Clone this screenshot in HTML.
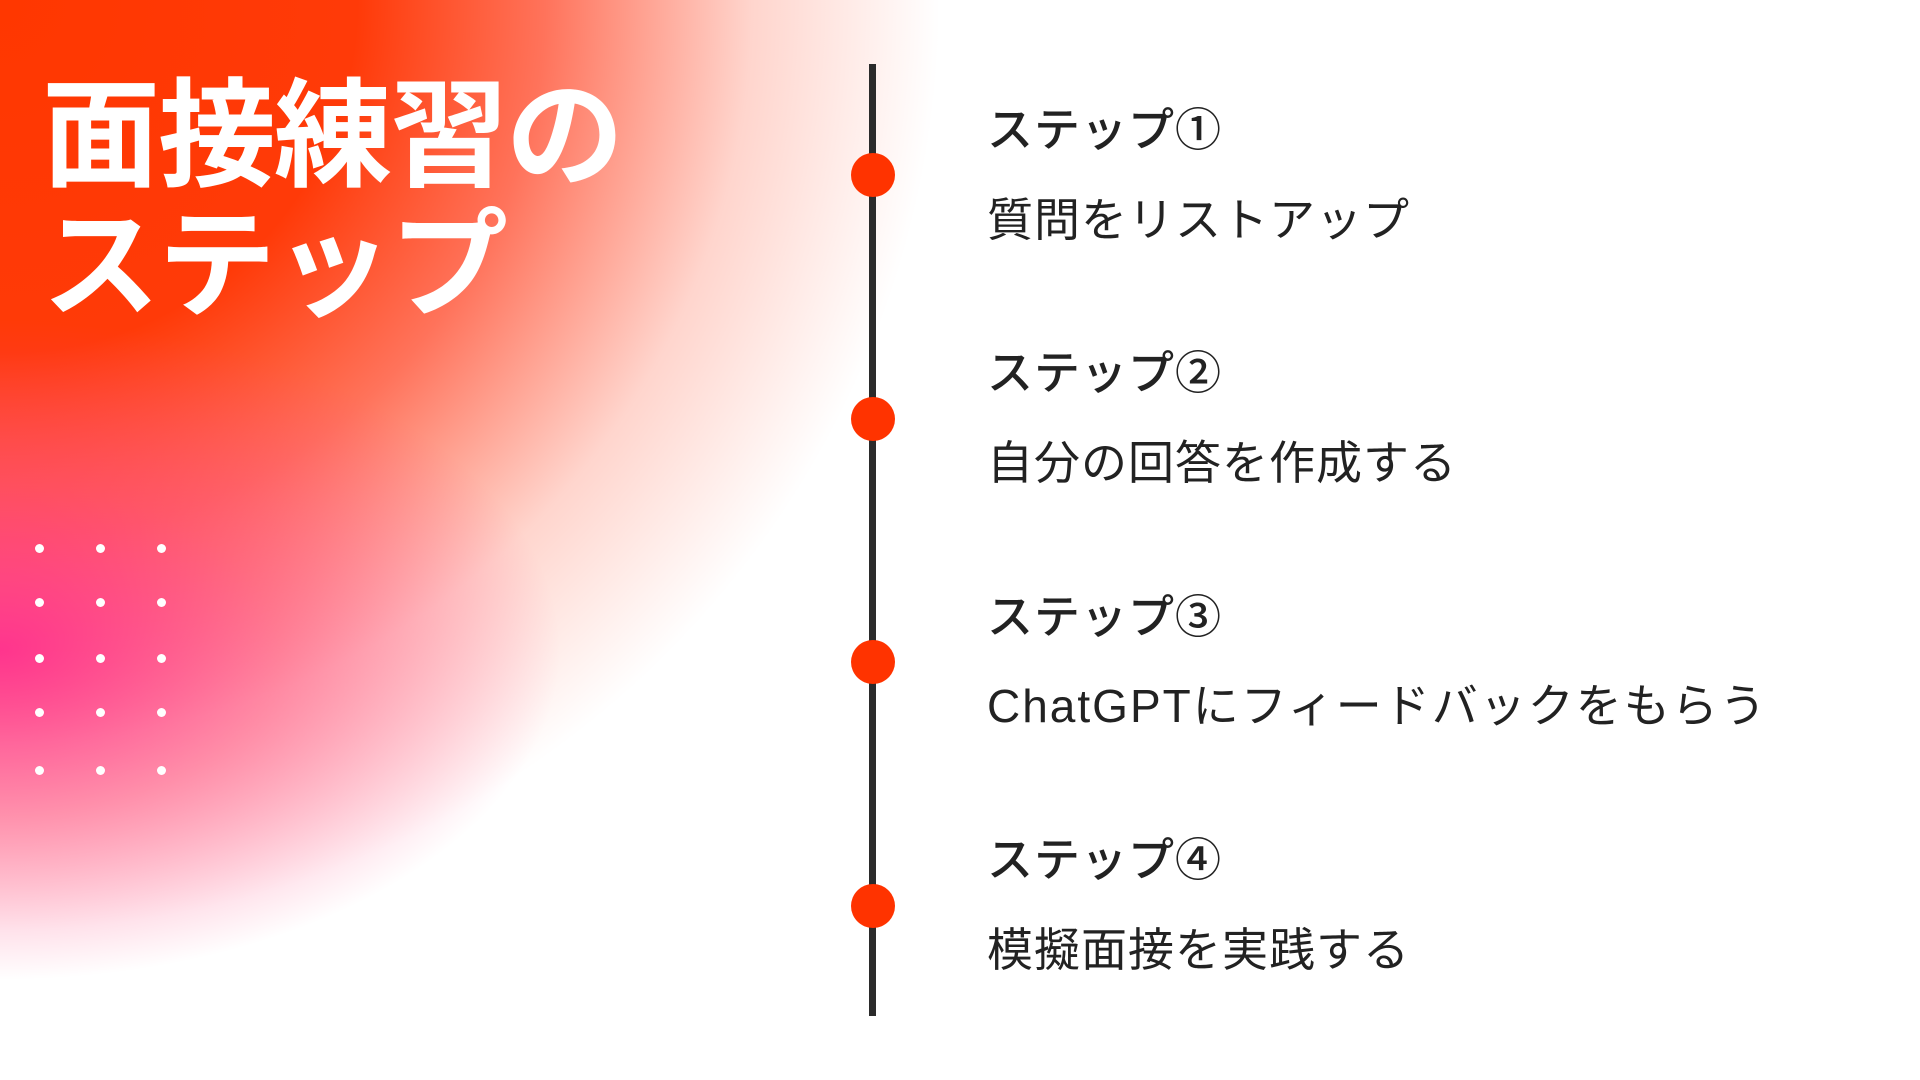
<!DOCTYPE html>
<html><head><meta charset="utf-8"><style>
html,body{margin:0;padding:0}
body{width:1920px;height:1080px;position:relative;overflow:hidden;background:#fff;font-family:"Liberation Sans","Noto Sans CJK JP",sans-serif}
.bg{position:absolute;inset:0;background:
radial-gradient(ellipse 560px 330px at 0px 650px, rgba(255,40,140,0.9) 0%, rgba(255,60,120,0.5) 50%, rgba(255,120,150,0) 100%),
radial-gradient(ellipse 940px 930px at 0px 0px, #ff3700 0%, #ff3a08 38%, rgba(255,80,50,0.8) 58%, rgba(255,150,130,0.4) 80%, rgba(255,255,255,0) 100%);}
.title{position:absolute;left:42px;top:72px;color:#fff;font-size:118px;font-weight:bold;line-height:130px;letter-spacing:-2px}
.dot{position:absolute;width:9px;height:9px;border-radius:50%;background:#fff}
.line{position:absolute;left:869px;top:64px;width:7px;height:952px;background:#2b2b2b}
.node{position:absolute;left:851px;width:44px;height:44px;border-radius:50%;background:#ff3300}
.h{position:absolute;left:987px;font-size:46px;font-weight:500;color:#222;letter-spacing:1px}
.s{position:absolute;left:987px;font-size:46px;color:#222;letter-spacing:1px}
</style></head><body>
<div class="bg"></div>
<div class="title">面接練習の<br>ステップ</div>
<div class="dot" style="left:35px;top:544px"></div><div class="dot" style="left:96px;top:544px"></div><div class="dot" style="left:157px;top:544px"></div>
<div class="dot" style="left:35px;top:598px"></div><div class="dot" style="left:96px;top:598px"></div><div class="dot" style="left:157px;top:598px"></div>
<div class="dot" style="left:35px;top:654px"></div><div class="dot" style="left:96px;top:654px"></div><div class="dot" style="left:157px;top:654px"></div>
<div class="dot" style="left:35px;top:708px"></div><div class="dot" style="left:96px;top:708px"></div><div class="dot" style="left:157px;top:708px"></div>
<div class="dot" style="left:35px;top:766px"></div><div class="dot" style="left:96px;top:766px"></div><div class="dot" style="left:157px;top:766px"></div>
<div class="line"></div>
<div class="node" style="top:153px"></div>
<div class="node" style="top:397px"></div>
<div class="node" style="top:640px"></div>
<div class="node" style="top:884px"></div>
<div class="h" style="top:94px">ステップ①</div>
<div class="s" style="top:184px">質問をリストアップ</div>
<div class="h" style="top:337px">ステップ②</div>
<div class="s" style="top:427px">自分の回答を作成する</div>
<div class="h" style="top:581px">ステップ③</div>
<div class="s" style="top:670px;letter-spacing:2px">ChatGPTにフィードバックをもらう</div>
<div class="h" style="top:824px">ステップ④</div>
<div class="s" style="top:914px">模擬面接を実践する</div>
</body></html>
